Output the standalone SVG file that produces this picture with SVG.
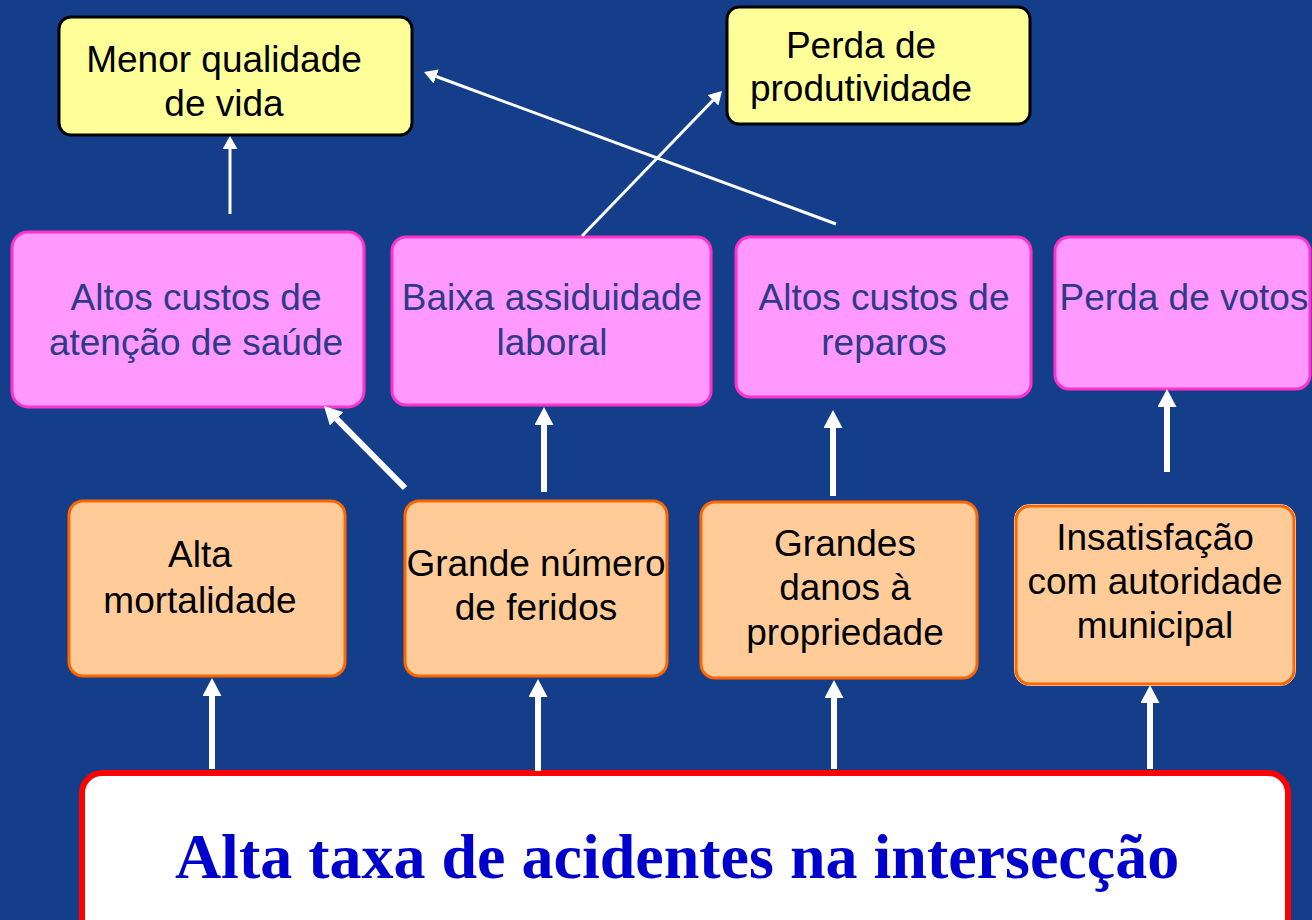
<svg xmlns="http://www.w3.org/2000/svg" width="1312" height="920" viewBox="0 0 1312 920">
<style>
.yel{fill:#FFFF99;stroke:#000;stroke-width:3}
.pink{fill:#FF99FF;stroke:#FF33CC;stroke-width:3}
.org{fill:#FFCC99;stroke:#FF6600;stroke-width:3}
.t{font-family:"Liberation Sans",Arial,sans-serif;font-size:37px;text-anchor:middle}
.tb{fill:#000}
.tp{fill:#2E3A88}
.main{font-family:"Liberation Serif","Times New Roman",serif;font-size:64px;font-weight:bold;fill:#0000CC;text-anchor:middle}
.thin{stroke:#fff;stroke-width:3;fill:none;marker-end:url(#ah1)}
.thick{stroke:#fff;stroke-width:6;fill:none;marker-end:url(#ah2)}
</style>
<defs>
<marker id="ah1" markerUnits="userSpaceOnUse" viewBox="0 0 13 15" markerWidth="13" markerHeight="15" refX="0" refY="7.5" orient="auto">
<path d="M0,0 L13,7.5 L0,15 Z" fill="#fff"/>
</marker>
<marker id="ah2" markerUnits="userSpaceOnUse" viewBox="0 0 18 19" markerWidth="18" markerHeight="19" refX="0" refY="9.5" orient="auto">
<path d="M0,0 L18,9.5 L0,19 Z" fill="#fff"/>
</marker>
</defs>
<rect x="0" y="0" width="1312" height="920" fill="#143E8A"/>

<g id="n-menor-qualidade">
<rect class="yel" x="59" y="17" width="353" height="118" rx="12"/>
<text class="t tb" x="224" y="72">Menor qualidade</text>
<text class="t tb" x="224" y="116">de vida</text>
</g>
<g id="n-perda-produtividade">
<rect class="yel" x="727" y="7" width="303" height="117" rx="12"/>
<text class="t tb" x="861" y="58">Perda de</text>
<text class="t tb" x="861" y="101">produtividade</text>
</g>

<g id="n-custos-saude">
<rect class="pink" x="12" y="232" width="352" height="175" rx="16"/>
<text class="t tp" x="196" y="310">Altos custos de</text>
<text class="t tp" x="196" y="355">atenção de saúde</text>
</g>
<g id="n-baixa-assiduidade">
<rect class="pink" x="392" y="237" width="319" height="168" rx="14"/>
<text class="t tp" x="552" y="310">Baixa assiduidade</text>
<text class="t tp" x="552" y="355">laboral</text>
</g>
<g id="n-custos-reparos">
<rect class="pink" x="736" y="237" width="295" height="160" rx="14"/>
<text class="t tp" x="884" y="310">Altos custos de</text>
<text class="t tp" x="884" y="355">reparos</text>
</g>
<g id="n-perda-votos">
<rect class="pink" x="1055" y="237" width="255" height="152" rx="14"/>
<text class="t tp" x="1184" y="310">Perda de votos</text>
</g>

<g id="n-alta-mortalidade">
<rect class="org" x="69" y="501" width="276" height="175" rx="14"/>
<text class="t tb" x="200" y="567">Alta</text>
<text class="t tb" x="200" y="613">mortalidade</text>
</g>
<g id="n-feridos">
<rect class="org" x="405" y="501" width="262" height="175" rx="14"/>
<text class="t tb" x="536" y="576">Grande número</text>
<text class="t tb" x="536" y="620">de feridos</text>
</g>
<g id="n-danos">
<rect class="org" x="701" y="502" width="276" height="176" rx="14"/>
<text class="t tb" x="845" y="556">Grandes</text>
<text class="t tb" x="845" y="600">danos à</text>
<text class="t tb" x="845" y="645">propriedade</text>
</g>
<g id="n-insatisfacao">
<rect x="1014.5" y="504.5" width="281" height="181" rx="15" fill="none" stroke="#fff" stroke-width="1"/>
<rect class="org" x="1016" y="506" width="278" height="178" rx="14"/>
<text class="t tb" x="1155" y="550">Insatisfação</text>
<text class="t tb" x="1155" y="594">com autoridade</text>
<text class="t tb" x="1155" y="638">municipal</text>
</g>

<g id="n-alta-taxa">
<rect x="82" y="773" width="1206" height="170" rx="20" fill="#fff" stroke="#FF0000" stroke-width="6"/>
<text class="main" x="677" y="878">Alta taxa de acidentes na intersecção</text>
</g>

<g id="connectors">
<line class="thin" x1="230" y1="214" x2="230" y2="149"/>
<line class="thin" x1="836" y1="224" x2="436.2" y2="76.5"/>
<line class="thin" x1="582" y1="236" x2="713" y2="100.3"/>
<line class="thick" x1="405" y1="488" x2="336.6" y2="418.8"/>
<line class="thick" x1="544" y1="492" x2="544" y2="425"/>
<line class="thick" x1="833" y1="496" x2="833" y2="428"/>
<line class="thick" x1="1167" y1="472" x2="1167" y2="407"/>
<line class="thick" x1="212" y1="769" x2="212" y2="696"/>
<line class="thick" x1="538" y1="771" x2="538" y2="697"/>
<line class="thick" x1="834" y1="769" x2="834" y2="698"/>
<line class="thick" x1="1150" y1="769" x2="1150" y2="703"/>
</g>
</svg>
